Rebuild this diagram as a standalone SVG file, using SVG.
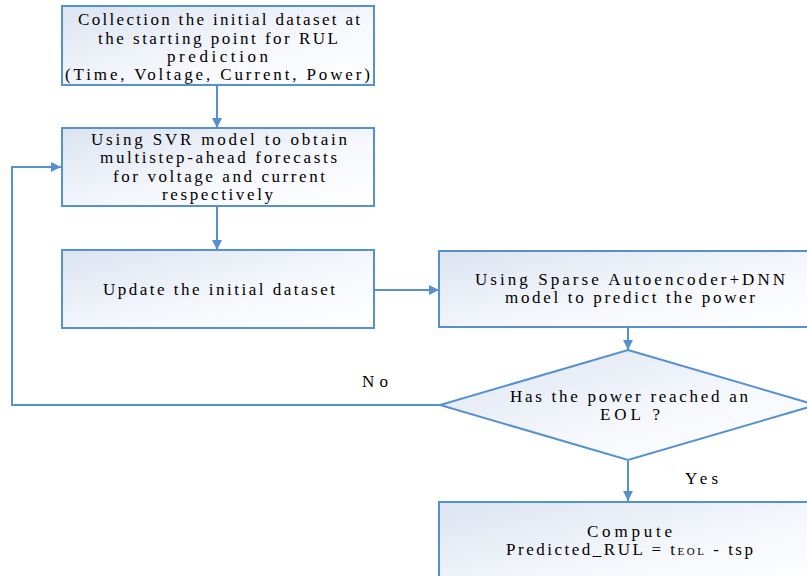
<svg xmlns="http://www.w3.org/2000/svg" width="807" height="576" viewBox="0 0 807 576">
<defs>
<linearGradient id="g" x1="0" y1="0" x2="1" y2="1">
<stop offset="0" stop-color="#dce4f1"/>
<stop offset="0.6" stop-color="#f6f8fc"/>
<stop offset="1" stop-color="#ffffff"/>
</linearGradient>
<marker id="ah" viewBox="0 0 10 10" refX="10" refY="5" markerWidth="10" markerHeight="10" markerUnits="userSpaceOnUse" orient="auto">
<path d="M0,0 L10,5 L0,10 Z" fill="#5591d0"/>
</marker>
<style>
.n{fill:url(#g);stroke:#5591d0;stroke-width:2}
.c{fill:none;stroke:#5591d0;stroke-width:2;marker-end:url(#ah)}
.t{font-family:"Liberation Serif","Times New Roman","DejaVu Serif",serif;font-size:17px;fill:#000;text-anchor:middle}
</style>
</defs>
<rect width="807" height="576" fill="#fff"/>
<g id="connectors">
<path class="c" d="M217,85 V128"/>
<path class="c" d="M217,206 V250"/>
<path class="c" d="M374,290 H439"/>
<path class="c" d="M628,328 V350"/>
<path class="c" d="M440,405 H12 V167 H61"/>
<path class="c" d="M628,461 V501"/>
</g>
<g id="n1">
<rect class="n" x="62" y="6" width="312" height="79"/>
<text class="t" x="219" y="25" textLength="282" lengthAdjust="spacing">Collection the initial dataset at</text>
<text class="t" x="218" y="43.5" textLength="240" lengthAdjust="spacing">the starting point for RUL</text>
<text class="t" x="217.5" y="62" textLength="101" lengthAdjust="spacing">prediction</text>
<text class="t" x="217.5" y="80" textLength="305" lengthAdjust="spacing">(Time, Voltage, Current, Power)</text>
</g>
<g id="n2">
<rect class="n" x="62" y="128" width="312" height="78"/>
<text class="t" x="219" y="145" textLength="256" lengthAdjust="spacing">Using SVR model to obtain</text>
<text class="t" x="218.5" y="163" textLength="237" lengthAdjust="spacing">multistep-ahead forecasts</text>
<text class="t" x="219" y="182" textLength="212" lengthAdjust="spacing">for voltage and current</text>
<text class="t" x="217.5" y="200" textLength="111" lengthAdjust="spacing">respectively</text>
</g>
<g id="n3">
<rect class="n" x="62" y="250" width="312" height="78"/>
<text class="t" x="219" y="295" textLength="232" lengthAdjust="spacing">Update the initial dataset</text>
</g>
<g id="n4">
<rect class="n" x="439" y="251" width="380" height="76"/>
<text class="t" x="630" y="285" textLength="310" lengthAdjust="spacing">Using Sparse Autoencoder+DNN</text>
<text class="t" x="630" y="303" textLength="250" lengthAdjust="spacing">model to predict the power</text>
</g>
<g id="n5">
<path class="n" d="M628,350 L816,405 L628,460 L440,405 Z"/>
<text class="t" x="629" y="402" textLength="238" lengthAdjust="spacing">Has the power reached an</text>
<text class="t" x="630" y="420" textLength="60" lengthAdjust="spacing">EOL ?</text>
</g>
<g id="n6">
<rect class="n" x="439" y="502" width="380" height="90"/>
<text class="t" x="629.5" y="537" textLength="85" lengthAdjust="spacing">Compute</text>
<text class="t" x="629.5" y="555" textLength="247" lengthAdjust="spacing">Predicted_RUL = t<tspan font-size="11">EOL</tspan> - tsp</text>
</g>
<g id="labels">
<text class="t" x="375" y="387" textLength="26" lengthAdjust="spacing">No</text>
<text class="t" x="701.5" y="484" textLength="33" lengthAdjust="spacing">Yes</text>
</g>
</svg>
